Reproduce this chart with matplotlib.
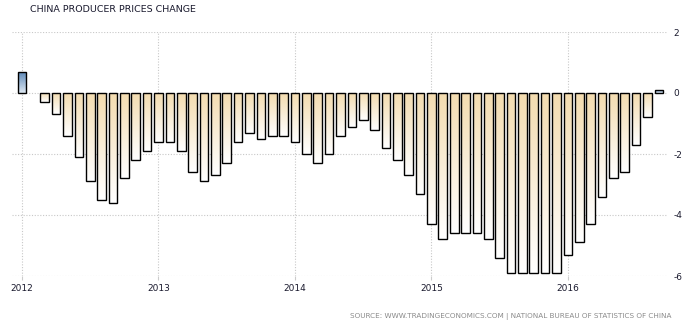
import numpy as np
import pandas as pd
import matplotlib
matplotlib.use("Agg")
import matplotlib.pyplot as plt
from matplotlib.colors import LinearSegmentedColormap

# Monthly producer price change (%), Jan 2012 - Sep 2016
start = "2012-01"
values = [
    0.7, 0.0, -0.3, -0.7, -1.4, -2.1, -2.9, -3.5, -3.6, -2.8, -2.2, -1.9,
    -1.6, -1.6, -1.9, -2.6, -2.9, -2.7, -2.3, -1.6, -1.3, -1.5, -1.4, -1.4,
    -1.6, -2.0, -2.3, -2.0, -1.4, -1.1, -0.9, -1.2, -1.8, -2.2, -2.7, -3.3,
    -4.3, -4.8, -4.6, -4.6, -4.6, -4.8, -5.4, -5.9, -5.9, -5.9, -5.9, -5.9,
    -5.3, -4.9, -4.3, -3.4, -2.8, -2.6, -1.7, -0.8, 0.1,
]
year_labels = ["2012", "2013", "2014", "2015", "2016"]
y_ticks = [2, 0, -2, -4, -6]

months = pd.period_range(start, periods=len(values), freq="M")
x = np.arange(len(values))
year_pos = [i for i, m in enumerate(months) if m.month == 1]

plt.rcParams["font.family"] = ["DejaVu Sans"]
plt.rcParams["axes.unicode_minus"] = False

fig = plt.figure(figsize=(6.89, 3.27), dpi=100)
ax = fig.add_axes([12 / 689, 51 / 327, 656 / 689, 244 / 327])

neg_cmap = LinearSegmentedColormap.from_list("neg", ["#ffffff", "#f3dcb0"])
pos_cmap = LinearSegmentedColormap.from_list("pos", ["#dce7f2", "#5a86b6"])
grad = np.linspace(0, 1, 64).reshape(-1, 1)

bars = ax.bar(x, values, width=0.76, facecolor="none", edgecolor="#000000",
              linewidth=1.0, zorder=3)
for b, v in zip(bars, values):
    if v == 0:
        b.set_visible(False)
        continue
    x0, w = b.get_x(), b.get_width()
    y0, y1 = min(0, v), max(0, v)
    cmap = pos_cmap if v > 0 else neg_cmap
    im = ax.imshow(grad, cmap=cmap, origin="lower", aspect="auto",
                   extent=(x0, x0 + w, y0, y1), zorder=2,
                   interpolation="bilinear")
    im.set_clip_path(b)

ax.set_xlim(-0.88, 56.8)
ax.set_ylim(-6, 2)

for s in ax.spines.values():
    s.set_visible(False)

ax.set_xticks(year_pos)
ax.set_xticklabels(year_labels)
ax.set_yticks(y_ticks)
ax.set_yticklabels([str(t) for t in y_ticks])
ax.yaxis.tick_right()
ax.tick_params(axis="y", length=0, pad=4, labelsize=6.5, labelcolor="#1a1a2e")
ax.tick_params(axis="x", length=3, color="#cccccc", pad=3, labelsize=6.5,
               labelcolor="#1a1a2e")
for lab in ax.get_yticklabels():
    lab.set_horizontalalignment("left")

ax.grid(True, color="#c8c8c8", linestyle=(0, (1, 1.5)), linewidth=0.8, zorder=0)
ax.set_axisbelow(True)

fig.text(30 / 689, 1 - 10 / 327, "CHINA PRODUCER PRICES CHANGE", fontsize=6.8,
         color="#1a1a2e", ha="left", va="center")
fig.text(672 / 689, 1 - 316 / 327,
         "SOURCE: WWW.TRADINGECONOMICS.COM | NATIONAL BUREAU OF STATISTICS OF CHINA",
         fontsize=5.2, color="#8a8a8a", ha="right", va="center")

fig.savefig("out.png", dpi=100)
